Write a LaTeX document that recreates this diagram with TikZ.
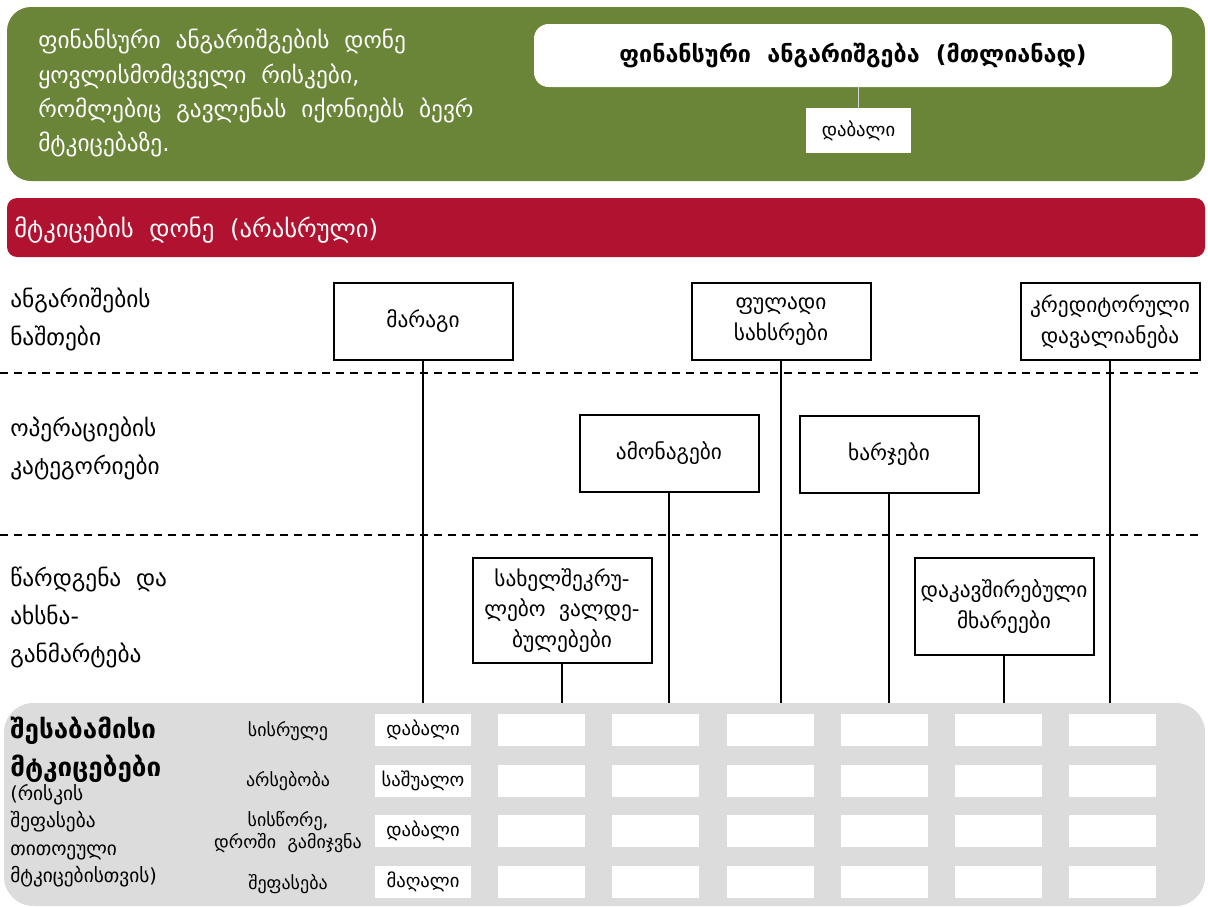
\documentclass[tikz,border=0pt]{standalone}
\usepackage{fontspec}
\setmainfont{DejaVu Sans}[WordSpace=2]
\definecolor{headgreen}{RGB}{106,132,56}
\definecolor{levelred}{RGB}{177,18,48}
\definecolor{panelgrey}{RGB}{220,220,220}
\definecolor{stemgrey}{RGB}{215,215,215}
\tikzset{
  acctbox/.style={draw=black, line width=1.5pt, fill=white, minimum width=134.25pt,
    minimum height=57.75pt, align=center, inner sep=1pt,
    font=\fontsize{16}{23}\selectfont},
  rowlabel/.style={anchor=west, align=left, inner sep=0pt,
    font=\fontsize{17.5}{28.5}\selectfont},
  link/.style={line width=1.5pt},
  rowsep/.style={line width=1pt, dash pattern=on 6pt off 4.5pt},
  valcell/.style={fill=white, minimum height=24pt, inner sep=0pt,
    font=\fontsize{14}{16}\selectfont},
  asserttag/.style={align=center, inner sep=0pt, font=\fontsize{13.5}{16}\selectfont},
}
\begin{document}
\begin{tikzpicture}[x=0.75pt,y=-0.75pt]
\useasboundingbox (0,0) rectangle (1208,907);

% ---- overall level (green panel)
\fill[headgreen, rounded corners=18pt] (7,7) rectangle (1205,181);
\node[anchor=north west, align=left, text=white, inner sep=0pt,
      font=\fontsize{17.5}{25.7}\selectfont] (headtext) at (38,29)
  {ფინანსური ანგარიშგების დონე\\ყოვლისმომცველი რისკები,\\რომლებიც გავლენას იქონიებს ბევრ\\მტკიცებაზე.};
\node[fill=white, rounded corners=11pt, minimum width=478.5pt, minimum height=47.25pt,
      font=\fontsize{17.5}{20}\selectfont\bfseries] (fsall) at (853,55.5)
  {ფინანსური ანგარიშგება (მთლიანად)};
\node[fill=white, minimum width=78.75pt, minimum height=33.75pt,
      font=\fontsize{14}{16}\selectfont] (fslevel) at (858.5,130.5) {დაბალი};
\draw[stemgrey, line width=1.2pt] (fslevel.north |- fsall.south) -- (fslevel.north);

% ---- assertion level (red bar)
\fill[levelred, rounded corners=7.5pt] (7,198) rectangle (1205,257);
\node[anchor=west, text=white, inner sep=0pt, font=\fontsize{18.5}{20}\selectfont]
  (levelhead) at (14,230) {მტკიცების დონე (არასრული)};

% ---- row labels and separators
\node[rowlabel] (lblbal) at (10,319) {ანგარიშების\\ნაშთები};
\node[rowlabel] (lblops) at (10,448) {ოპერაციების\\კატეგორიები};
\node[rowlabel] (lbldisc) at (10,617) {წარდგენა და\\ახსნა-\\განმარტება};
\draw[rowsep] (0,373) -- (1200,373);
\draw[rowsep] (0,535) -- (1200,535);

% ---- bottom panel
\fill[panelgrey, rounded corners=22pt] (4,703) rectangle (1205,906);
\coordinate (paneltop) at (0,703);

% ---- account, transaction and disclosure boxes
\node[acctbox] (inv)  at (423,321.5)  {მარაგი};
\node[acctbox] (cash) at (781,321.5)  {ფულადი\\სახსრები};
\node[acctbox] (pay)  at (1110,321.5) {კრედიტორული\\დავალიანება};
\node[acctbox] (rev)  at (669,453)    {ამონაგები};
\node[acctbox] (exp)  at (889,454.5)  {ხარჯები};
\node[acctbox, minimum height=78.75pt] (comm) at (562,610.5)
  {სახელშეკრუ-\\ლებო ვალდე-\\ბულებები};
\node[acctbox, minimum height=72.75pt] (rel)  at (1004,606.5)
  {დაკავშირებული\\მხარეები};

\foreach \b in {inv,cash,pay,rev,exp,comm,rel}
  \draw[link] (\b.south) -- (\b.south |- paneltop);

% ---- assertions and their risk cells
\node[anchor=north west, align=left, inner sep=0pt,
      font=\fontsize{19.5}{28.5}\selectfont\bfseries] (asstitle) at (10,717)
  {შესაბამისი\\მტკიცებები};
\node[anchor=north west, align=left, inner sep=0pt,
      font=\fontsize{14.5}{20.5}\selectfont] (assnote) at (10,784)
  {(რისკის\\შეფასება\\თითოეული\\მტკიცებისთვის)};

\node[asserttag] (a1) at (288,731) {სისრულე};
\node[asserttag] (a2) at (288,781) {არსებობა};
\node[asserttag] (a3) at (288,832) {სისწორე,\\დროში გამიჯვნა};
\node[asserttag] (a4) at (288,884) {შეფასება};

\foreach \r/\y/\v in {1/730/დაბალი, 2/781/საშუალო, 3/831/დაბალი, 4/882/მაღალი} {
  \node[valcell, minimum width=72pt] (c\r-0) at (423,\y) {\v};
  \foreach \c/\x in {1/541.5, 2/655.5, 3/770, 4/884.5, 5/998.5, 6/1112.5}
    \node[valcell, minimum width=65.25pt] (c\r-\c) at (\x,\y) {};
}
\end{tikzpicture}
\end{document}
